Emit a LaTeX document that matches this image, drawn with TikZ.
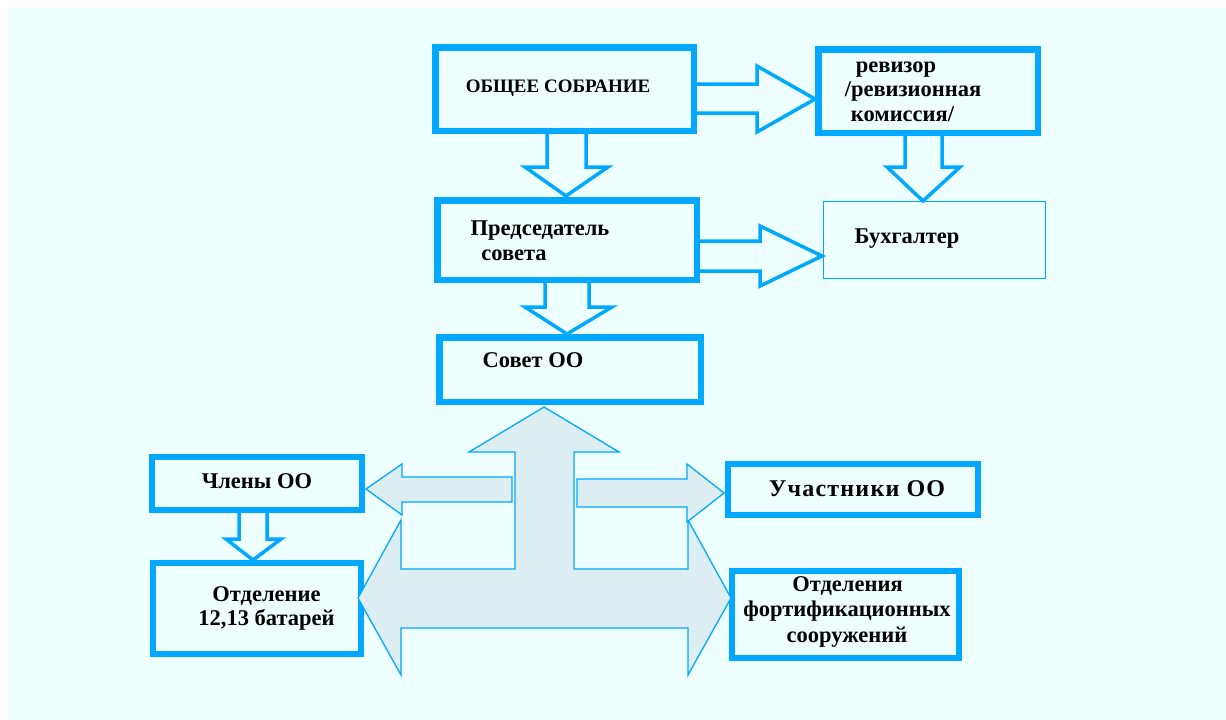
\documentclass[tikz,border=0pt]{standalone}
\usepackage{fontspec}
\setmainfont{Liberation Serif}
\definecolor{bgc}{HTML}{EEFFFF}
\definecolor{bl}{HTML}{00A8FF}
\definecolor{afill}{HTML}{DDEEF3}
\begin{document}
\begin{tikzpicture}[x=1pt,y=-1pt,
  box/.style={draw=bl,line width=6.5pt,fill=none,inner sep=0pt,outer sep=0pt},
  thinbox/.style={draw=bl,line width=1.3pt,fill=none,inner sep=0pt,outer sep=0pt},
  txt/.style={anchor=base,inner sep=0pt,font=\fontsize{22.5}{26}\selectfont\bfseries},
  hollow/.style={draw=bl,line width=3.5pt,line join=miter},
  big/.style={draw=bl,line width=1.3pt,fill=afill,line join=miter}]
\useasboundingbox (0,0) rectangle (1226,720);
\fill[white] (0,0) rectangle (1226,720);
\fill[bgc] (8,8) rectangle (1226,720);

% boxes
\node[box,minimum width=258.5pt,minimum height=83.5pt] (gen) at (564.5,89) {};
\node[box,minimum width=219.5pt,minimum height=83.5pt] (rev) at (928,91) {};
\node[box,minimum width=259.5pt,minimum height=79.5pt] (pred) at (567,240) {};
\node[thinbox,minimum width=221.7pt,minimum height=76.7pt] (buh) at (934.5,240) {};
\node[box,minimum width=261.5pt,minimum height=64.5pt] (sov) at (570,369.5) {};
\node[box,minimum width=210pt,minimum height=53pt] (chl) at (257,483.5) {};
\node[box,minimum width=250pt,minimum height=51pt] (uch) at (853,489.5) {};
\node[box,minimum width=208pt,minimum height=91pt] (otd) at (257,608.5) {};
\node[box,minimum width=227pt,minimum height=87pt] (fort) at (845.5,614.5) {};

% texts
\node[txt,font=\fontsize{19}{22}\selectfont\bfseries] (t1) at (558,92) {ОБЩЕЕ СОБРАНИЕ};
\node[txt] (t2) at (896,72) {ревизор};
\node[txt] (t3) at (913,96) {/ревизионная};
\node[txt] (t4) at (902.5,121) {комиссия/};
\node[txt] (t5) at (540,235) {Председатель};
\node[txt] (t6) at (514,260) {совета};
\node[txt] (t7) at (907,243) {Бухгалтер};
\node[txt] (t8) at (533,367) {Совет ОО};
\node[txt] (t9) at (257,488) {Члены ОО};
\node[txt,font=\fontsize{24}{28}\selectfont\bfseries\addfontfeatures{LetterSpace=5}] (t10) at (857,496) {Участники ОО};
\node[txt] (t11) at (266.5,601) {Отделение};
\node[txt] (t12) at (266.5,625) {12,13 батарей};
\node[txt] (t13) at (847.5,591) {Отделения};
\node[txt] (t14) at (847,616) {фортификационных};
\node[txt] (t15) at (847,642) {сооружений};

% hollow block arrows
\draw[hollow] (697,84)--(757,84)--(757,66)--(815,99)--(757,132)--(757,113)--(697,113);
\draw[hollow] (547,134)--(547,167)--(525,167)--(566,196)--(608,167)--(586,167)--(586,134);
\draw[hollow] (905,136)--(905,167)--(887,167)--(923,201)--(960,167)--(942,167)--(942,136);
\draw[hollow] (700,241)--(760,241)--(760,226)--(822,256)--(760,286)--(760,271)--(700,271);
\draw[hollow] (545,283)--(545,307)--(525,307)--(567,334)--(612,307)--(589,307)--(589,283);
\draw[hollow] (239,513)--(239,539)--(226,539)--(253,560)--(281,539)--(267,539)--(267,513);

% big filled arrows
\draw[big] (515,569)--(515,452)--(469,452)--(544,407)--(619,452)--(574,452)--(574,569)--(688,569)--(688,520)--(731,598)--(688,675)--(688,628)--(401,628)--(401,675)--(358,598)--(401,520)--(401,569)--cycle;
\draw[big] (512,477)--(402,477)--(402,464)--(366,489)--(402,515)--(402,502)--(512,502)--cycle;
\draw[big] (577,479)--(687,479)--(687,464)--(724,493)--(687,522)--(687,507)--(577,507)--cycle;
\end{tikzpicture}
\end{document}
